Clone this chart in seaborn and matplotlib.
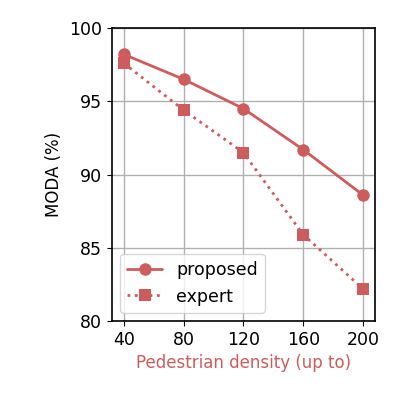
import pandas as pd
import seaborn as sns
import matplotlib.pyplot as plt

density = [40, 80, 120, 160, 200]
proposed = [98.2, 96.5, 94.5, 91.7, 88.6]
expert = [97.6, 94.4, 91.5, 85.9, 82.2]

data = pd.DataFrame({
    'density': density * 2,
    'MODA': proposed + expert,
    'method': ['proposed'] * len(density) + ['expert'] * len(density)
})

sns.set_style('ticks')
plt.rcParams['font.family'] = ['DejaVu Sans']
plt.rcParams['text.color'] = 'black'
plt.rcParams['axes.labelcolor'] = 'black'
plt.rcParams['xtick.color'] = 'black'
plt.rcParams['ytick.color'] = 'black'

fig, ax = plt.subplots(figsize = (3.99, 3.99), dpi = 100)
color = 'indianred'

sub = data[data['method'] == 'proposed']
sns.lineplot(x = 'density', y = 'MODA', data = sub, color = color, marker = 'o',
             markersize = 9, linewidth = 2, markeredgewidth = 0, label = 'proposed', ax = ax)
sub = data[data['method'] == 'expert']
sns.lineplot(x = 'density', y = 'MODA', data = sub, color = color, marker = 's',
             markersize = 9, linewidth = 2, markeredgewidth = 0, linestyle = ':',
             label = 'expert', ax = ax)

ax.set_xticks(density)
ax.set_ylim(80, 100)
ax.set_yticks([80, 85, 90, 95, 100])
ax.set_xlim(32, 208)
ax.grid(True, color = '#b0b0b0', linewidth = 1)
ax.tick_params(labelsize = 12.5, colors = 'black')
ax.set_xlabel('Pedestrian density (up to)', color = color, fontsize = 12)
ax.set_ylabel('MODA (%)', fontsize = 12, color = 'black')
for s in ax.spines.values():
    s.set_linewidth(1.2)
    s.set_color('black')
ax.legend(loc = 'lower left', fontsize = 12.5)

plt.subplots_adjust(left = 0.28, right = 0.94, top = 0.93, bottom = 0.195)
plt.savefig('out.png', dpi = 100)
